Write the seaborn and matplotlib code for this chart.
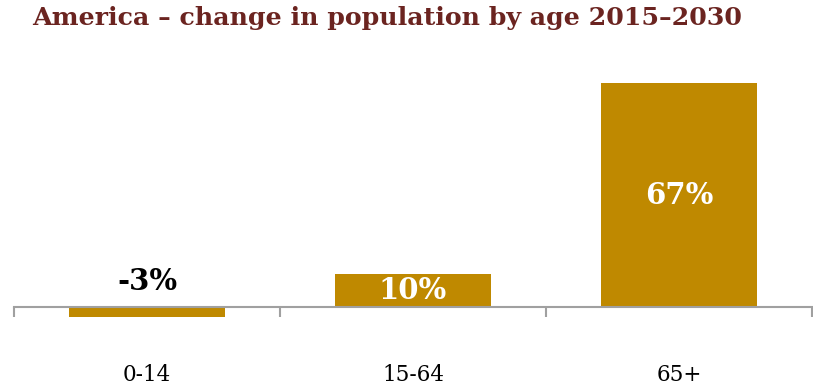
import matplotlib
matplotlib.use("Agg")
import matplotlib.pyplot as plt
import seaborn as sns
import pandas as pd

categories = ["0-14", "15-64", "65+"]
values = [-3, 10, 67]
labels = ["-3%", "10%", "67%"]
title = "America \u2013 change in population by age 2015\u20132030"

sns.set_theme(style="white")
plt.rcParams['font.family'] = ['DejaVu Serif', 'Liberation Serif']

df = pd.DataFrame({"age": categories, "change": values})

fig = plt.figure(figsize=(8.13, 3.91), dpi=100)
W, H = 813, 391
px = 3.343
ymin, ymax = -3.5, 70
zero_y = 307
top_px = zero_y - ymax * px
bot_px = zero_y - ymin * px
ax = fig.add_axes([14 / W, 1 - bot_px / H, (812 - 14) / W, (bot_px - top_px) / H])

bar_color = "#BF8900"
sns.barplot(data=df, x="age", y="change", color=bar_color, width=0.59,
            saturation=1, ax=ax, edgecolor="none")
ax.set_xlim(-0.5, 2.5)
ax.set_ylim(ymin, ymax)

for s in ["top", "left", "right"]:
    ax.spines[s].set_visible(False)
ax.spines["bottom"].set_position(("data", 0))
ax.spines["bottom"].set_color("#A0A0A0")
ax.spines["bottom"].set_linewidth(1.5)
ax.set_yticks([])
ax.set_xlabel("")
ax.set_ylabel("")
ax.set_xticks([0, 1, 2])
ax.set_xticklabels(categories, fontsize=15.5, color="black")
ax.tick_params(axis="x", which="major", length=0, pad=41, bottom=True)
ax.set_xticks([-0.5, 0.5, 1.5, 2.5], minor=True)
ax.tick_params(axis="x", which="minor", length=7, width=1.5, color="#A0A0A0",
               direction="out", bottom=True)
ax.set_axisbelow(False)

for i, (v, lab) in enumerate(zip(values, labels)):
    if v < 0:
        ax.text(i, 3.4, lab, ha="center", va="bottom", fontsize=21,
                fontweight="bold", color="black")
    else:
        ax.text(i, v / 2, lab, ha="center", va="center", fontsize=21,
                fontweight="bold", color="white")

fig.text(32 / W, 1 - 18 / H, title, ha="left", va="center", fontsize=18.2,
         fontweight="bold", color="#6B2420")

fig.savefig("out.png", dpi=100, facecolor="white")
